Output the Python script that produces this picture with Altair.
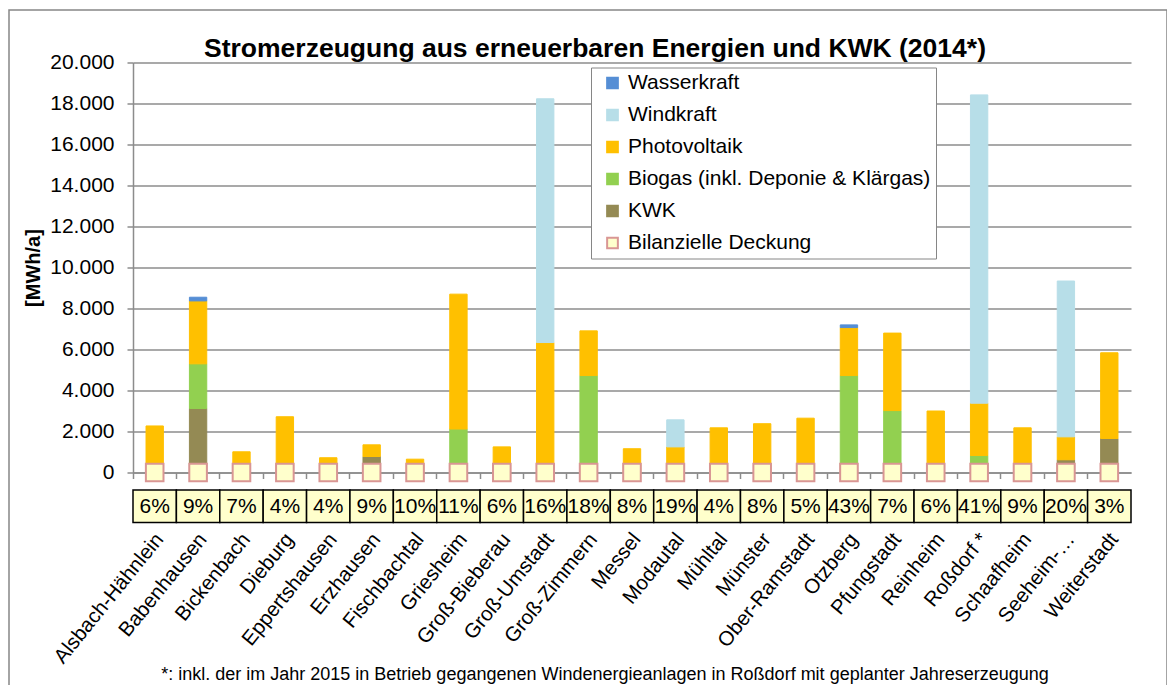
import altair as alt
import pandas as pd

FONT = "Liberation Sans"
GRID = "#8c8c8c"

gemeinden = ["Alsbach-Hähnlein", "Babenhausen", "Bickenbach", "Dieburg", "Eppertshausen",
             "Erzhausen", "Fischbachtal", "Griesheim", "Groß-Bieberau", "Groß-Umstadt",
             "Groß-Zimmern", "Messel", "Modautal", "Mühltal", "Münster", "Ober-Ramstadt",
             "Otzberg", "Pfungstadt", "Reinheim", "Roßdorf *", "Schaafheim", "Seeheim-…",
             "Weiterstadt"]
kwk = [0, 3120, 0, 0, 0, 780, 0, 0, 0, 0, 0, 0, 0, 0, 0, 0, 0, 0, 0, 0, 0, 620, 1660]
biogas = [0, 2180, 0, 0, 0, 0, 0, 2120, 0, 0, 4730, 0, 0, 0, 0, 0, 4730, 3020, 0, 830, 0, 0, 0]
photovoltaik = [2270, 3070, 1010, 2720, 720, 570, 650, 6580, 1250, 6340, 2180, 1160, 1250,
                2180, 2380, 2650, 2340, 3780, 3000, 2550, 2180, 1120, 4180]
windkraft = [0, 0, 0, 0, 0, 0, 0, 0, 0, 11890, 0, 0, 1320, 0, 0, 0, 0, 0, 0, 15040, 0, 7600, 0]
wasserkraft = [0, 180, 0, 0, 0, 0, 0, 0, 0, 0, 0, 0, 0, 0, 0, 0, 130, 0, 0, 0, 0, 0, 0]
deckung = ["6%", "9%", "7%", "4%", "4%", "9%", "10%", "11%", "6%", "16%", "18%", "8%", "19%",
           "4%", "8%", "5%", "43%", "7%", "6%", "41%", "9%", "20%", "3%"]

serien = ["Wasserkraft", "Windkraft", "Photovoltaik", "Biogas (inkl. Deponie & Klärgas)",
          "KWK", "Bilanzielle Deckung"]
fill_farben = ["#558ED5", "#B7DEE8", "#FFC000", "#92D050", "#948A54", "#FFFFCC"]
rand_farben = ["#558ED5", "#B7DEE8", "#FFC000", "#92D050", "#948A54", "#D99694"]
y_ticks = list(range(0, 20001, 2000))

title_text = "Stromerzeugung aus erneuerbaren Energien und KWK (2014*)"
fussnote = ("*: inkl. der im Jahr 2015 in Betrieb gegangenen Windenergieanlagen in Roßdorf "
            "mit geplanter Jahreserzeugung")

rows = []
for ordnung, (name, werte) in enumerate([(serien[4], kwk), (serien[3], biogas),
                                         (serien[2], photovoltaik), (serien[1], windkraft),
                                         (serien[0], wasserkraft)]):
    for g, v in zip(gemeinden, werte):
        if v > 0:
            rows.append({"Gemeinde": g, "Energie": name, "Wert": v, "ord": ordnung})
bars_df = pd.DataFrame(rows)
deck_df = pd.DataFrame({"Gemeinde": gemeinden, "Energie": serien[5], "Wert": 0,
                        "Deckung": deckung})

x_enc = alt.X("Gemeinde:N", sort=gemeinden,
              scale=alt.Scale(paddingInner=0, paddingOuter=0),
              axis=alt.Axis(title=None, labelAngle=-51, labelAlign="right",
                            labelBaseline="middle", labelFontSize=20.5, labelFont=FONT,
                            labelColor="black", labelPadding=57, labelOffset=5,
                            bandPosition=0, tickSize=6, tickColor=GRID, tickWidth=1.5,
                            domainColor=GRID, domainWidth=1.5, grid=False, labelLimit=300))
y_axis = alt.Axis(title="[MWh/a]", values=y_ticks,
                  labelExpr="replace(format(datum.value, ','), ',', '.')",
                  labelFontSize=21, labelFont=FONT, labelColor="black", labelPadding=13,
                  tickSize=6, tickColor=GRID, tickWidth=1.5, domainColor=GRID,
                  domainWidth=1.5, grid=True, gridColor=GRID, gridWidth=1.5,
                  titleFont=FONT, titleFontSize=20, titleFontWeight="bold",
                  titleColor="black", titlePadding=6)
y_scale = alt.Scale(domain=[0, 20000], nice=False)

legend = alt.Legend(title=None, orient="none", legendX=458, legendY=5,
                    strokeColor="#868686", fillColor="white", padding=5,
                    labelFontSize=21, labelFont=FONT, labelColor="black",
                    symbolType="square", symbolSize=115, rowPadding=10, labelOffset=5,
                    symbolOffset=6, labelLimit=400, symbolStrokeWidth=2)
fill_enc = alt.Fill("Energie:N", scale=alt.Scale(domain=serien, range=fill_farben),
                    legend=legend)
stroke_enc = alt.Stroke("Energie:N", scale=alt.Scale(domain=serien, range=rand_farben),
                        legend=legend)

bars = alt.Chart(bars_df).mark_bar(width=alt.RelativeBandSize(0.4), strokeWidth=1).encode(
    x=x_enc,
    y=alt.Y("Wert:Q", stack="zero", scale=y_scale, axis=y_axis),
    fill=fill_enc,
    stroke=stroke_enc,
    order=alt.Order("ord:Q", sort="ascending"),
)

squares = alt.Chart(deck_df).mark_square(size=310, strokeWidth=2, opacity=1).encode(
    x=x_enc,
    y=alt.Y("Wert:Q", scale=y_scale, axis=y_axis),
    fill=fill_enc,
    stroke=stroke_enc,
)

boxes = alt.Chart(deck_df).mark_rect(fill="#FFFFCC", stroke="black", strokeWidth=1.5).encode(
    x=x_enc, y=alt.value(427.5), y2=alt.value(460)
)
box_text = alt.Chart(deck_df).mark_text(fontSize=21, font=FONT, color="black").encode(
    x=x_enc, y=alt.value(444), text="Deckung:N"
)

one = pd.DataFrame({"t": [fussnote], "h": [title_text]})
frame = alt.Chart(one).mark_rect(fillOpacity=0, stroke="#868686", strokeWidth=1.5).encode(
    x=alt.value(-124), x2=alt.value(1034), y=alt.value(-52.5), y2=alt.value(700)
)
foot = alt.Chart(one).mark_text(fontSize=18, font=FONT, color="black").encode(
    x=alt.value(472), y=alt.value(612), text="t:N"
)
title = alt.Chart(one).mark_text(fontSize=26.5, font=FONT, fontWeight="bold", color="black",
                                 baseline="alphabetic").encode(
    x=alt.value(462), y=alt.value(-6), text="h:N"
)

chart = alt.layer(bars, squares, boxes, box_text, frame, foot, title).properties(
    width=998, height=410,
    padding={"left": 125, "top": 54.5, "right": 36, "bottom": 212},
    autosize=alt.AutoSizeParams(type="none"),
).configure_view(stroke=None)

chart.save("out.html", embed_options={"renderer": "svg", "actions": False})
